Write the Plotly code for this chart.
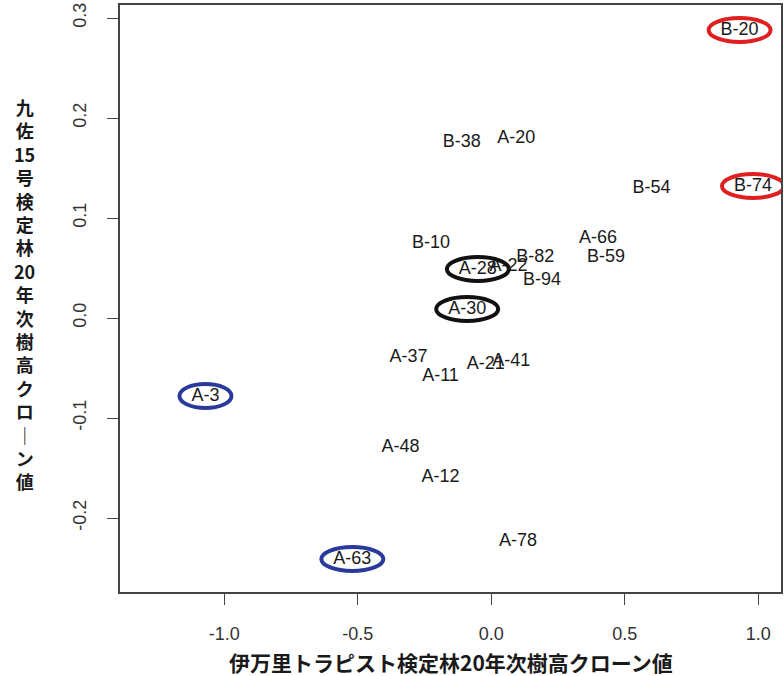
import plotly.graph_objects as go

labels = ["B-20", "B-74", "B-38", "A-20", "B-54", "B-10", "A-66", "B-82", "B-59",
          "A-28", "A-22", "B-94", "A-30", "A-37", "A-11", "A-21", "A-41", "A-3",
          "A-48", "A-12", "A-78", "A-63"]
x_vals = [0.93, 0.98, -0.11, 0.094, 0.60, -0.225, 0.40, 0.165, 0.43,
          -0.05, 0.065, 0.19, -0.09, -0.31, -0.19, -0.02, 0.075, -1.07,
          -0.34, -0.19, 0.10, -0.52]
y_vals = [0.288, 0.132, 0.176, 0.180, 0.130, 0.075, 0.080, 0.061, 0.061,
          0.049, 0.052, 0.038, 0.009, -0.039, -0.058, -0.046, -0.043, -0.078,
          -0.129, -0.159, -0.223, -0.241]

circled = {"B-20": "#e02020", "B-74": "#e02020",
           "A-28": "#111111", "A-30": "#111111",
           "A-3": "#2a3a9a", "A-63": "#2a3a9a"}
x_ticks = [-1.0, -0.5, 0.0, 0.5, 1.0]
y_ticks = [-0.2, -0.1, 0.0, 0.1, 0.2, 0.3]

x_title = "伊万里トラピスト検定林20年次樹高クローン値"
y_title_parts = ["九", "佐", "15", "号", "検", "定", "林", "20", "年", "次", "樹", "高", "ク", "ロ", "｜", "ン", "値"]

fig = go.Figure()
fig.add_trace(go.Scatter(
    x=x_vals, y=y_vals, mode="text", text=labels,
    textposition="middle center",
    textfont=dict(family="Liberation Sans, Arial, sans-serif", size=18, color="#1a1a1a"),
    hoverinfo="skip", showlegend=False, cliponaxis=False))

shapes = []
for lab, xv, yv in zip(labels, x_vals, y_vals):
    if lab in circled:
        w = 31 if len(lab) > 3 else 26
        shapes.append(dict(type="circle", xref="x", yref="y",
                           xsizemode="pixel", ysizemode="pixel",
                           xanchor=xv, yanchor=yv,
                           x0=-w, x1=w, y0=-12, y1=12,
                           line=dict(color=circled[lab], width=4)))

axis_font = dict(family="Liberation Sans, Arial, sans-serif", size=18, color="#333333")
fig.update_layout(
    width=784, height=676,
    margin=dict(l=120, r=3, t=5, b=84, autoexpand=False),
    paper_bgcolor="white", plot_bgcolor="white",
    shapes=shapes,
    xaxis=dict(range=[-1.39, 1.085], tickvals=x_ticks, ticktext=[f"{v:.1f}" for v in x_ticks],
               showgrid=False, zeroline=False, showline=True, mirror=True,
               linecolor="#444444", linewidth=1.5, ticks="outside", ticklen=11,
               tickcolor="#444444", tickfont=axis_font, ticklabelstandoff=14),
    yaxis=dict(range=[-0.274, 0.313], tickvals=y_ticks, ticktext=[f"{v:.1f}" for v in y_ticks],
               showgrid=False, zeroline=False, showline=True, mirror=True,
               linecolor="#444444", linewidth=1.5, ticks="outside", ticklen=11,
               tickcolor="#444444", tickfont=axis_font, tickangle=-90, ticklabelstandoff=14),
    annotations=[
        dict(text="<b>" + x_title + "</b>", xref="paper", yref="paper", x=0.5, y=0,
             xanchor="center", yanchor="top", yshift=-53, showarrow=False,
             font=dict(family="Noto Sans CJK JP", size=21, color="#1a1a1a")),
        dict(text="<b>" + "<br>".join(y_title_parts) + "</b>", xref="paper", yref="paper",
             x=0, y=0.5, xanchor="center", yanchor="middle", xshift=-96, yshift=5,
             showarrow=False, align="center",
             font=dict(family="Noto Sans CJK JP", size=18, color="#1a1a1a")),
    ],
)
fig.write_html("out.html", config={"displayModeBar": False},
               post_script="document.body.style.margin='0';")
